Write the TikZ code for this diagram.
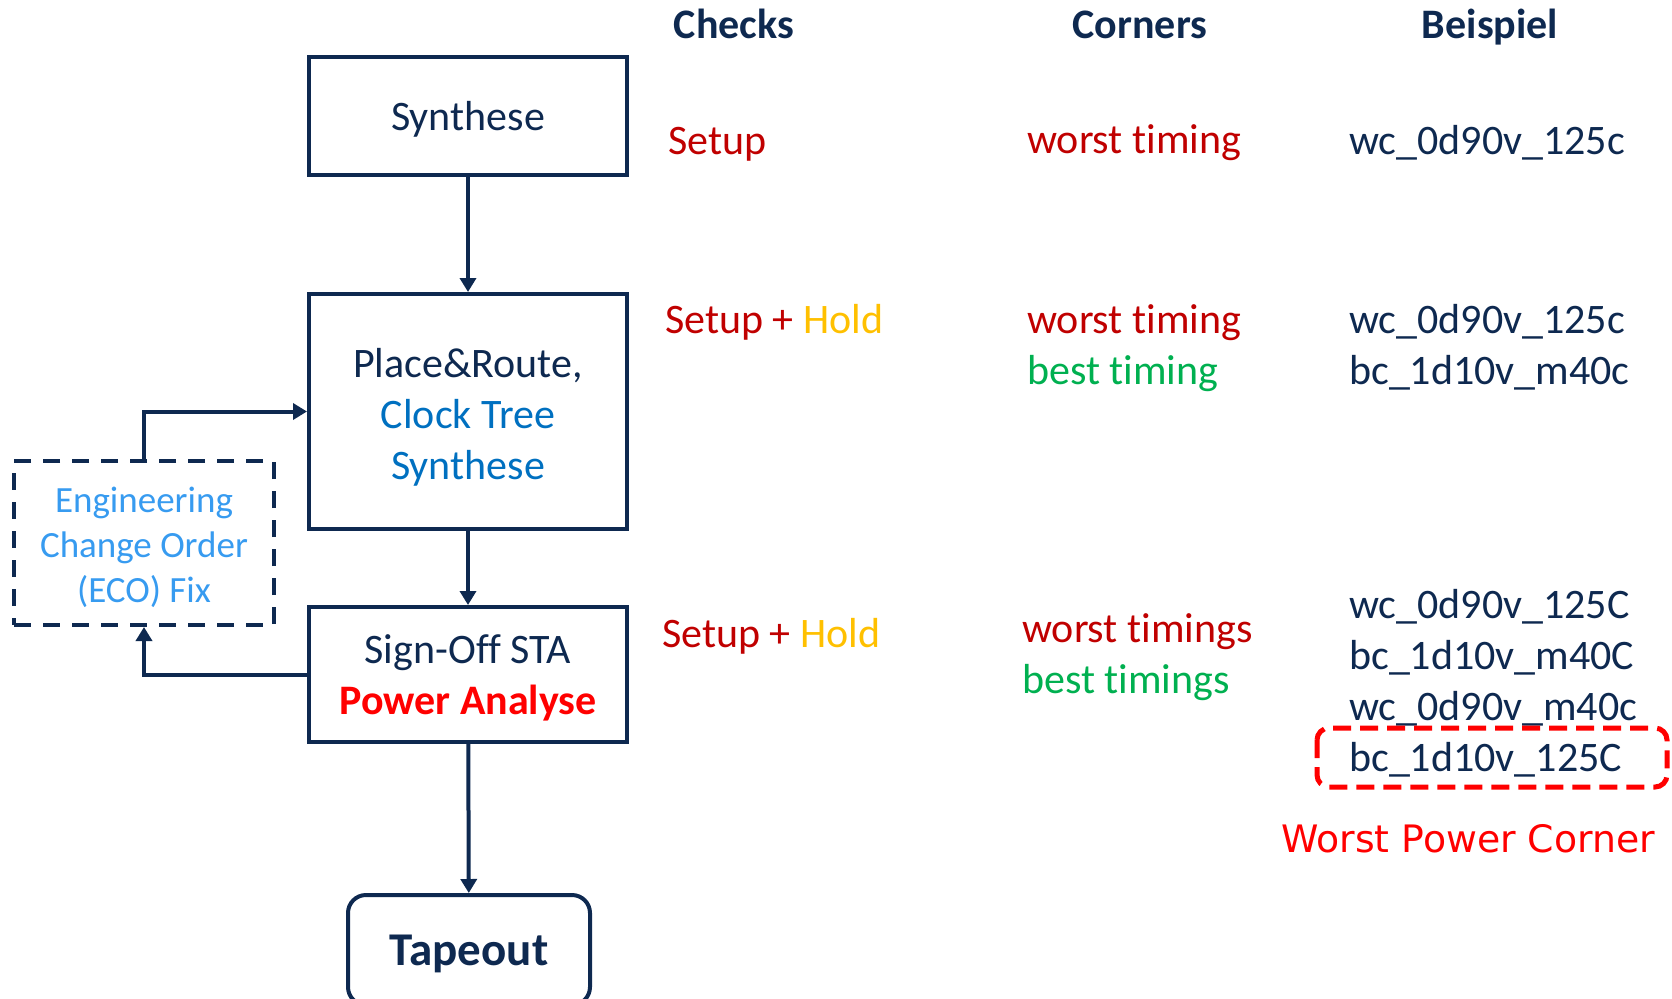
\documentclass[tikz,border=0pt]{standalone}
\usepackage{fontspec}
\setmainfont{Carlito}[Ligatures=NoCommon]
\newfontfamily\dejavu{DejaVu Sans}
\usetikzlibrary{arrows.meta}

\definecolor{navy}{RGB}{14,41,80}
\definecolor{darkred}{RGB}{192,0,0}
\definecolor{gold}{RGB}{255,192,0}
\definecolor{okgreen}{RGB}{0,176,80}
\definecolor{ctsblue}{RGB}{0,112,192}
\definecolor{ecoblue}{RGB}{55,155,240}
\definecolor{brightred}{RGB}{255,0,0}

% centred box text, set lower by #1 (extra empty height of 2*#1 on top)
\newcommand\boxtext[2][4pt]{%
  \raisebox{0pt}[\dimexpr\height+2\dimexpr#1\relax\relax]{\begin{tabular}{@{}c@{}}#2\end{tabular}}}

\tikzset{
  flowbox/.style={draw=navy, line width=4pt, inner sep=0pt,
    text=navy, font=\fontsize{42}{51}\selectfont},
  ecobox/.style={draw=navy, line width=4pt, dash pattern=on 17pt off 12pt,
    inner sep=0pt, text=ecoblue, font=\fontsize{37}{45}\selectfont},
  flow/.style={draw=navy, line width=4pt, -{Triangle[length=14pt,width=16pt]}},
  head/.style={anchor=base, text=navy, inner sep=0pt, font=\fontsize{42}{51}\selectfont\bfseries},
  cell/.style={anchor=base west, inner sep=0pt, font=\fontsize{42}{51}\selectfont},
  hotbox/.style={draw=brightred, line width=5pt, dash pattern=on 18pt off 9pt,
    rounded corners=12pt}
}

\begin{document}
\begin{tikzpicture}[x=1pt,y=-1pt]
\useasboundingbox (0,0) rectangle (1672,998);

% flow of design steps
\node[flowbox, minimum width=318pt, minimum height=118pt] (syn) at (468,116)
  {\boxtext[4.5pt]{Synthese}};
\node[flowbox, minimum width=318pt, minimum height=235pt] (pr) at (468,411.5)
  {\boxtext[6.4pt]{Place\&Route,\\\textcolor{ctsblue}{Clock Tree}\\\textcolor{ctsblue}{Synthese}}};
\node[flowbox, minimum width=318pt, minimum height=135pt] (so) at (468,674.5)
  {\boxtext[4.5pt]{Sign-Off STA\\\textcolor{brightred}{\bfseries Power Analyse}}};
\node[flowbox, minimum width=242pt, minimum height=110pt, rounded corners=18pt,
  font=\fontsize{47}{56}\selectfont\bfseries] (tape) at (469,950) {\boxtext[4.3pt]{Tapeout}};
\node[ecobox, minimum width=260pt, minimum height=164pt] (eco) at (144,543)
  {\boxtext[5.3pt]{Engineering\\Change Order\\(ECO) Fix}};

\draw[flow] (syn) -- (pr);
\draw[flow] (pr) -- (so);
\draw[flow] (so) -- (tape);
\draw[flow] (eco.north) |- (pr.west);
\draw[flow] (so.west) -| (eco.south);

% column headers
\node[head] (hchk) at (734,39) {Checks};
\node[head] (hcor) at (1140,39) {Corners};
\node[head] (hbsp) at (1490,39) {Beispiel};

% Synthese row
\node[cell, text=darkred] (c1) at (668,154) {Setup};
\node[cell, text=darkred] (k1) at (1027,153) {worst timing};
\node[cell, text=navy] (b1) at (1349,154) {wc\_0d90v\_125c};

% Place & Route row
\node[cell, text=darkred] (c2) at (665,333) {Setup + \textcolor{gold}{Hold}};
\node[cell, text=darkred] (k2a) at (1027,333) {worst timing};
\node[cell, text=okgreen] (k2b) at (1027,384) {best timing};
\node[cell, text=navy] (b2a) at (1349,333) {wc\_0d90v\_125c};
\node[cell, text=navy] (b2b) at (1349,384) {bc\_1d10v\_m40c};

% Sign-off row
\node[cell, text=darkred] (c3) at (662,647) {Setup + \textcolor{gold}{Hold}};
\node[cell, text=darkred] (k3a) at (1022,642) {worst timings};
\node[cell, text=okgreen] (k3b) at (1022,693) {best timings};
\node[cell, text=navy] (b3a) at (1349,618) {wc\_0d90v\_125C};
\node[cell, text=navy] (b3b) at (1349,669) {bc\_1d10v\_m40C};
\node[cell, text=navy] (b3c) at (1349,720) {wc\_0d90v\_m40c};
\node[cell, text=navy] (b3d) at (1349,771) {bc\_1d10v\_125C};

% worst power corner marker
\draw[hotbox] (1317,728) rectangle (1667,787);
\node[anchor=base west, inner sep=0pt, text=brightred, font=\dejavu\fontsize{37.8}{44}\selectfont]
  (wpc) at (1281,852) {Worst Power Corner};
\end{tikzpicture}
\end{document}
